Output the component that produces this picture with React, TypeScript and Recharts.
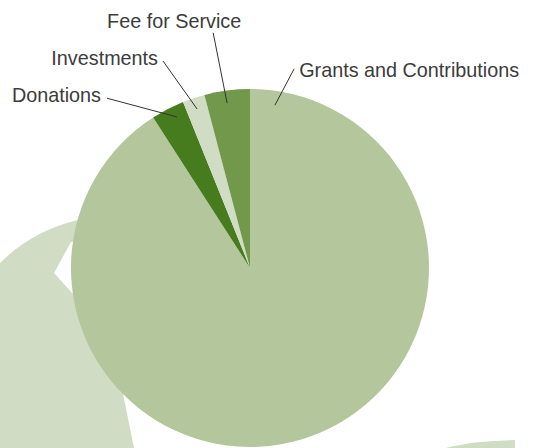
import React from 'react';
import { PieChart, Pie, Cell } from 'recharts';

const categories = ['Grants and Contributions', 'Donations', 'Investments', 'Fee for Service'];
const shares = [90.9, 3.0, 2.0, 4.1];
const colors = ['#b3c69c', '#467b1e', '#d0dcc3', '#72984c'];

const data = categories.map((name, i) => ({ name, value: shares[i] }));

// label layout: angles in degrees counter-clockwise from 12 o'clock, radii as fraction of outerRadius
const LABEL_LAYOUT = [
  { a1: -8.7, r1: 0.92, a2: -12.5, r2: 1.14, tx: 5, ty: 8, anchor: 'start' },
  { a1: 25.8, r1: 0.937, a2: 40.1, r2: 1.24, tx: -6, ty: 4, anchor: 'end' },
  { a1: 18.4, r1: 0.936, a2: 22.8, r2: 1.254, tx: -5, ty: 4, anchor: 'end' },
  { a1: 7.9, r1: 0.93, a2: 8.9, r2: 1.33, tx: -39, ty: -5, anchor: 'middle' },
];

const pt = (cx: number, cy: number, r: number, a: number) => {
  const rad = (a * Math.PI) / 180;
  return { x: cx - r * Math.sin(rad), y: cy - r * Math.cos(rad) };
};

const renderLabel = (props: any) => {
  const { cx, cy, outerRadius, index, name } = props;
  const L = LABEL_LAYOUT[index];
  const p1 = pt(cx, cy, outerRadius * L.r1, L.a1);
  const p2 = pt(cx, cy, outerRadius * L.r2, L.a2);
  return (
    <g key={`lbl-${index}`}>
      <line x1={p1.x} y1={p1.y} x2={p2.x} y2={p2.y} stroke="#333" strokeWidth={1} />
      <text
        x={p2.x + L.tx}
        y={p2.y + L.ty}
        textAnchor={L.anchor}
        fontFamily="'Liberation Sans', Arial, sans-serif"
        fontSize={19.8}
        fill="#3c3c3c"
      >
        {name}
      </text>
    </g>
  );
};

export default function App() {
  return (
    <div style={{ position: 'absolute', left: 0, top: 0, width: 536, height: 448, overflow: 'hidden', background: '#fff' }}>
      <svg width={536} height={448} style={{ position: 'absolute', left: 0, top: 0 }}>
        <path
          d="M0,448 L0,263 Q32,231 78,220 L150,220 L150,236 L71,242 L54,273 L72,293 L150,300 L150,380 L122,389 L134,448 Z"
          fill="#d0dcc4"
        />
        <path d="M446,448 Q470,441 515,440 L515,448 Z" fill="#d0dcc4" />
      </svg>
      <div style={{ position: 'absolute', left: 0, top: 0 }}>
        <PieChart width={536} height={448} margin={{ top: 0, right: 0, bottom: 0, left: 0 }}>
          <Pie
            data={data}
            dataKey="value"
            nameKey="name"
            cx={250}
            cy={268}
            outerRadius={179}
            startAngle={90}
            endAngle={-270}
            stroke="none"
            label={renderLabel}
            labelLine={false}
            isAnimationActive={false}
          >
            {data.map((d, i) => (
              <Cell key={d.name} fill={colors[i]} />
            ))}
          </Pie>
        </PieChart>
      </div>
    </div>
  );
}
